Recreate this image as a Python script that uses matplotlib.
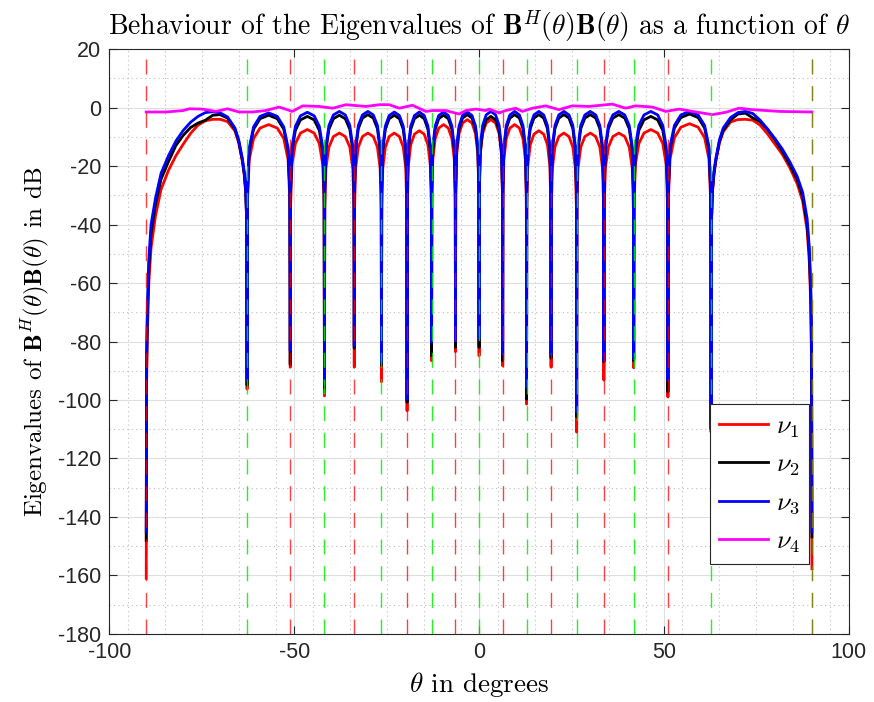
import matplotlib
matplotlib.use("Agg")
import matplotlib.pyplot as plt
from matplotlib.ticker import FixedLocator

plt.rcParams['mathtext.fontset'] = 'cm'
plt.rcParams['axes.unicode_minus'] = False

# angles (degrees) where the curves are sampled, one line per lobe
theta_deg = [
    -90, -89.9, -89.7, -89.3, -88.7, -87.5, -86, -84, -82, -80, -78, -76, -74, -72, -70, -68, -66, -65, -64, -63.5, -63.1, -62.85,
    -62.73, -62.61, -62.15, -60.98, -59.23, -56.90, -54.56, -52.81, -51.64, -51.18,
    -51.06, -50.97, -50.60, -49.67, -48.29, -46.44, -44.59, -43.20, -42.27, -41.90,
    -41.81, -41.73, -41.41, -40.60, -39.39, -37.78, -36.17, -34.96, -34.15, -33.83,
    -33.75, -33.68, -33.38, -32.65, -31.54, -30.07, -28.60, -27.49, -26.76, -26.46,
    -26.39, -26.32, -26.04, -25.35, -24.31, -22.93, -21.55, -20.51, -19.82, -19.54,
    -19.47, -19.40, -19.14, -18.48, -17.48, -16.16, -14.83, -13.84, -13.17, -12.90,
    -12.84, -12.78, -12.52, -11.87, -10.90, -9.61, -8.32, -7.35, -6.70, -6.44,
    -6.38, -6.32, -6.06, -5.42, -4.47, -3.19, -1.91, -0.96, -0.32, -0.06,
    0, 0.06, 0.32, 0.96, 1.91, 3.19, 4.47, 5.42, 6.06, 6.32,
    6.38, 6.44, 6.70, 7.35, 8.32, 9.61, 10.90, 11.87, 12.52, 12.78,
    12.84, 12.90, 13.17, 13.84, 14.83, 16.16, 17.48, 18.48, 19.14, 19.40,
    19.47, 19.54, 19.82, 20.51, 21.55, 22.93, 24.31, 25.35, 26.04, 26.32,
    26.39, 26.46, 26.76, 27.49, 28.60, 30.07, 31.54, 32.65, 33.38, 33.68,
    33.75, 33.83, 34.15, 34.96, 36.17, 37.78, 39.39, 40.60, 41.41, 41.73,
    41.81, 41.90, 42.27, 43.20, 44.59, 46.44, 48.29, 49.67, 50.60, 50.97,
    51.06, 51.18, 51.64, 52.81, 54.56, 56.90, 59.23, 60.98, 62.15, 62.61,
    62.73, 62.85, 63.1, 63.5, 64, 65, 66, 68, 70, 72, 74, 76, 78, 80, 82, 84, 86, 87.5, 88.7, 89.3, 89.7, 89.9, 90,
]

nu1_db = [
    -161, -95, -78, -60, -48, -37, -28, -21.5, -16.5, -12.5, -8.8, -6, -4.5, -4.0, -4.0, -4.8, -8, -12, -18.5, -23, -29, -39,
    -96.3, -31.8, -17.8, -10.6, -7.0, -5.8, -7.0, -10.6, -17.8, -31.8,
    -88.8, -33.5, -19.5, -12.3, -8.7, -7.5, -8.7, -12.3, -19.5, -33.5,
    -98.6, -34.7, -20.7, -13.5, -9.9, -8.7, -9.9, -13.5, -20.7, -34.7,
    -88.8, -34.7, -20.7, -13.5, -9.9, -8.7, -9.9, -13.5, -20.7, -34.7,
    -93.8, -34.7, -20.7, -13.5, -9.9, -8.7, -9.9, -13.5, -20.7, -34.7,
    -103.7, -33.9, -19.9, -12.7, -9.1, -7.9, -9.1, -12.7, -19.9, -33.9,
    -86.6, -31.8, -17.8, -10.6, -7.0, -5.8, -7.0, -10.6, -17.8, -31.8,
    -83.5, -30.1, -16.1, -8.9, -5.3, -4.1, -5.3, -8.9, -16.1, -30.1,
    -84.9, -30.1, -16.1, -8.9, -5.3, -4.1, -5.3, -8.9, -16.1, -30.1,
    -88.3, -31.8, -17.8, -10.6, -7.0, -5.8, -7.0, -10.6, -17.8, -31.8,
    -101.4, -33.9, -19.9, -12.7, -9.1, -7.9, -9.1, -12.7, -19.9, -33.9,
    -88.8, -34.7, -20.7, -13.5, -9.9, -8.7, -9.9, -13.5, -20.7, -34.7,
    -111, -34.7, -20.7, -13.5, -9.9, -8.7, -9.9, -13.5, -20.7, -34.7,
    -93.2, -34.7, -20.7, -13.5, -9.9, -8.7, -9.9, -13.5, -20.7, -34.7,
    -89, -33.5, -19.5, -12.3, -8.7, -7.5, -8.7, -12.3, -19.5, -33.5,
    -99, -31.5, -17.5, -10.3, -6.7, -5.5, -6.7, -10.3, -17.5, -31.5,
    -111, -39, -29, -23, -18.5, -12, -8.3, -4.9, -4.1, -4.0, -4.3, -6, -9, -12.5, -16, -20.5, -26, -32, -42, -53, -68, -90, -157.7,
]

nu2_db = [
    -148, -88, -72, -55, -43, -33, -24.5, -18.5, -13, -9.5, -6.8, -5.3, -4.3, -2.6, -2.4, -3.6, -7.5, -11.5, -18, -22.5, -28.5, -38,
    -95, -28.6, -14.6, -7.4, -3.8, -2.6, -3.8, -7.4, -14.6, -28.6,
    -87.8, -29, -15, -7.8, -4.2, -3.0, -4.2, -7.8, -15, -29,
    -96, -28.6, -14.6, -7.4, -3.8, -2.6, -3.8, -7.4, -14.6, -28.6,
    -82.3, -28.4, -14.4, -7.2, -3.6, -2.4, -3.6, -7.2, -14.4, -28.4,
    -88.3, -28.6, -14.6, -7.4, -3.8, -2.6, -3.8, -7.4, -14.6, -28.6,
    -100.8, -28.6, -14.6, -7.4, -3.8, -2.6, -3.8, -7.4, -14.6, -28.6,
    -84.9, -28.6, -14.6, -7.4, -3.8, -2.6, -3.8, -7.4, -14.6, -28.6,
    -82, -28.4, -14.4, -7.2, -3.6, -2.4, -3.6, -7.2, -14.4, -28.4,
    -82, -29, -15, -7.8, -4.2, -3.0, -4.2, -7.8, -15, -29,
    -86.6, -28.4, -14.4, -7.2, -3.6, -2.4, -3.6, -7.2, -14.4, -28.4,
    -99.7, -28.4, -14.4, -7.2, -3.6, -2.4, -3.6, -7.2, -14.4, -28.4,
    -85.7, -28.4, -14.4, -7.2, -3.6, -2.4, -3.6, -7.2, -14.4, -28.4,
    -105.8, -28.4, -14.4, -7.2, -3.6, -2.4, -3.6, -7.2, -14.4, -28.4,
    -87, -28.4, -14.4, -7.2, -3.6, -2.4, -3.6, -7.2, -14.4, -28.4,
    -86.6, -29, -15, -7.8, -4.2, -3.0, -4.2, -7.8, -15, -29,
    -97.3, -28.2, -14.2, -7.0, -3.4, -2.2, -3.4, -7.0, -14.2, -28.2,
    -110, -38, -28.5, -22.5, -18, -11.5, -7.8, -4.2, -2.2, -1.9, -3.5, -4.8, -7.5, -11, -15, -19.5, -24.5, -30.5, -40, -50, -65, -85, -146.8,
]

nu3_db = [
    -145, -85, -69, -52, -40, -31, -22.5, -16.5, -11.5, -7.8, -5, -3, -1.7, -1.4, -1.8, -3.2, -7, -11, -17.5, -22, -28, -38,
    -93, -27.8, -13.8, -6.6, -3.0, -1.8, -3.0, -6.6, -13.8, -27.8,
    -83.2, -27.6, -13.6, -6.4, -2.8, -1.6, -2.8, -6.4, -13.6, -27.6,
    -94.6, -27.3, -13.3, -6.1, -2.5, -1.3, -2.5, -6.1, -13.3, -27.3,
    -81.5, -27.3, -13.3, -6.1, -2.5, -1.3, -2.5, -6.1, -13.3, -27.3,
    -87, -27.5, -13.5, -6.3, -2.7, -1.5, -2.7, -6.3, -13.5, -27.5,
    -99.7, -27.5, -13.5, -6.3, -2.7, -1.5, -2.7, -6.3, -13.5, -27.5,
    -80.3, -27.5, -13.5, -6.3, -2.7, -1.5, -2.7, -6.3, -13.5, -27.5,
    -79.8, -27.5, -13.5, -6.3, -2.7, -1.5, -2.7, -6.3, -13.5, -27.5,
    -78.9, -27.3, -13.3, -6.1, -2.5, -1.3, -2.5, -6.1, -13.3, -27.3,
    -84.3, -27.3, -13.3, -6.1, -2.5, -1.3, -2.5, -6.1, -13.3, -27.3,
    -95.6, -27.3, -13.3, -6.1, -2.5, -1.3, -2.5, -6.1, -13.3, -27.3,
    -84.3, -27.3, -13.3, -6.1, -2.5, -1.3, -2.5, -6.1, -13.3, -27.3,
    -104, -27.3, -13.3, -6.1, -2.5, -1.3, -2.5, -6.1, -13.3, -27.3,
    -86.6, -27.3, -13.3, -6.1, -2.5, -1.3, -2.5, -6.1, -13.3, -27.3,
    -86, -27.3, -13.3, -6.1, -2.5, -1.3, -2.5, -6.1, -13.3, -27.3,
    -93.4, -27.3, -13.3, -6.1, -2.5, -1.3, -2.5, -6.1, -13.3, -27.3,
    -107.6, -38, -28, -22, -17.5, -11, -7, -3.4, -1.7, -1.3, -2.0, -4.3, -7.3, -10.6, -14.2, -18.5, -23.5, -29, -38, -48, -62, -80, -145,
]

# nu_4 is nearly flat, read point by point
theta4_deg = [-90, -84.7, -80, -78.4, -75, -73.9, -71.2, -68, -64.9, -61.3, -57.7, -54.1, -50.5, -47.7,
              -43.2, -39.6, -36, -30.6, -27, -24.3, -21.6, -18, -14.4, -12.6, -9, -5.4, -3.6, -0.9,
              1.8, 2.7, 5.4, 7.2, 9.9, 11.7, 14.4, 18, 21.6, 25.2, 29.7, 36, 39.6, 42.3, 46.8,
              50.5, 54.1, 57.7, 63.1, 66.7, 70.3, 73.9, 81.1, 90]
nu4_db = [-1.5, -1.5, -1.0, -0.4, -0.5, -0.7, -1.3, -0.4, -1.5, -1.5, -1.0, 0.2, -1.3, 0.6,
          0.4, -0.2, 1.0, 0.4, 1.0, 1.0, -0.2, 0.8, -1.3, -1.0, -1.0, -2.2, -1.0, -0.5,
          -1.0, -0.5, -1.8, -1.0, -0.2, -1.3, -0.2, 0.6, -0.7, 0.6, 0.4, 1.2, -0.2, 0.6, 0.2,
          -1.3, -0.5, -1.3, -2.4, -1.6, -0.2, -0.7, -1.3, -1.5]

# dashed reference angles
red_lines = [-90, -51.06, -33.75, -19.47, -6.38, 6.38, 19.47, 33.75, 51.06, 90]
green_lines = [-62.73, -41.81, -26.39, -12.84, 0, 12.84, 26.39, 41.81, 62.73, 90]

fig = plt.figure(figsize=(8.74, 7.02), dpi=100)
ax = fig.add_axes([0.125, 0.097, 0.8463, 0.833])

ax.plot(theta_deg, nu1_db, color='#ff0000', lw=2.0, label=r'$\nu_\mathsf{1}$')
ax.plot(theta_deg, nu2_db, color='#000000', lw=2.0, label=r'$\nu_\mathsf{2}$')
ax.plot(theta_deg, nu3_db, color='#0000ff', lw=2.0, label=r'$\nu_\mathsf{3}$')
ax.plot(theta4_deg, nu4_db, color='#ff00ff', lw=2.0, label=r'$\nu_\mathsf{4}$')

for t in green_lines:
    ax.axvline(t, color='#00ee00', lw=1.0, alpha=0.85, dashes=(10.8, 8.4))
for t in red_lines:
    a = 0.45 if t == 90 else 0.75
    ax.axvline(t, color='#ff0000', lw=1.0, alpha=a, dashes=(10.8, 8.4))

ax.set_xlim(-100, 100)
ax.set_ylim(-180, 20)
ax.set_xticks([-100, -50, 0, 50, 100])
ax.set_yticks(list(range(-180, 21, 20)))
ax.xaxis.set_minor_locator(FixedLocator(list(range(-95, 100, 10))))
ax.yaxis.set_minor_locator(FixedLocator(list(range(-170, 20, 20))))

ax.grid(True, which='major', color='#dedede', lw=0.8)
ax.grid(True, which='minor', color='#bdbdbd', lw=0.8, ls=(0, (1, 3)))
ax.set_axisbelow(True)

for s in ax.spines.values():
    s.set_color('#262626')
    s.set_linewidth(0.8)
ax.tick_params(which='major', direction='in', length=6, width=0.8, top=True, right=True,
               colors='#262626', labelsize=15.5, pad=6)
ax.tick_params(which='minor', length=0, top=True, right=True)
for lab in ax.get_xticklabels() + ax.get_yticklabels():
    lab.set_fontfamily('Liberation Sans')

ax.set_title(r'Behaviour of the Eigenvalues of $\mathbf{B}^H(\theta)\mathbf{B}(\theta)$ as a function of $\theta$',
             fontfamily='cmr10', fontsize=19.9, pad=11)
ax.set_xlabel(r'$\theta$ in degrees', fontfamily='cmr10', fontsize=19.5, labelpad=5)
ax.set_ylabel(r'Eigenvalues of $\mathbf{B}^H(\theta)\mathbf{B}(\theta)$ in dB', fontfamily='cmr10', fontsize=18, labelpad=5)

leg = ax.legend(loc='lower right', bbox_to_anchor=(0.9463, 0.1197), borderaxespad=0,
                fontsize=19, handlelength=1.85, handletextpad=0.3, labelspacing=0.45,
                fancybox=False, framealpha=1, borderpad=0.35)
leg.get_frame().set_edgecolor('#262626')
leg.get_frame().set_linewidth(0.8)

fig.savefig('out.png', dpi=100, facecolor='white')
